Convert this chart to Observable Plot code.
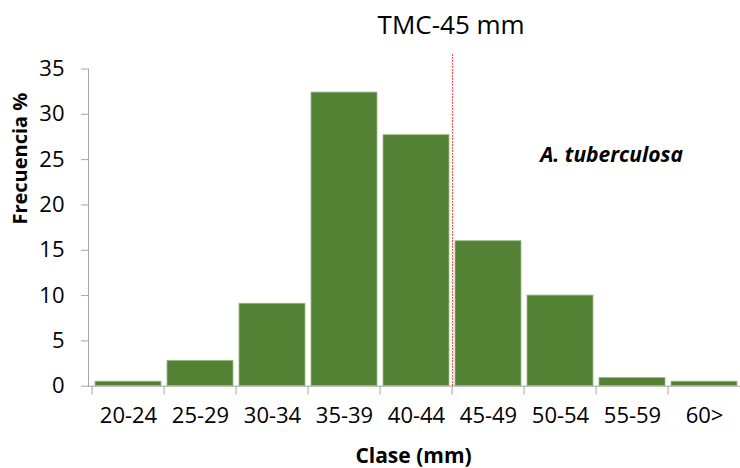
<!DOCTYPE html>
<html>
<head>
<meta charset="utf-8">
<script src="https://cdn.jsdelivr.net/npm/d3@7"></script>
<script src="https://cdn.jsdelivr.net/npm/@observablehq/plot@0.6"></script>
<style>
  html, body { margin: 0; padding: 0; background: #fff; }
  #chart svg { display: block; }
</style>
</head>
<body>
<div id="chart"></div>
<script>
const categories = ["20-24", "25-29", "30-34", "35-39", "40-44", "45-49", "50-54", "55-59", "60>"];
const frequencies = [0.5, 2.8, 9.1, 32.4, 27.7, 16.0, 10.0, 0.9, 0.5];
const yTicks = [0, 5, 10, 15, 20, 25, 30, 35];
const titleText = "TMC-45 mm";
const speciesText = "A. tuberculosa";
const xLabel = "Clase (mm)";
const yLabel = "Frecuencia %";
const tmcClass = "45-49";
const tmcTop = 36.7;

const data = categories.map((c, i) => ({clase: c, freq: frequencies[i]}));

const W = 740, H = 468, ML = 88, MR = -3, MT = 68.5, MB = 82.3;
const bw = (W - ML - MR) / categories.length;
const font = "'Open Sans', 'Noto Sans', sans-serif";

const chart = Plot.plot({
  width: W,
  height: H,
  marginLeft: ML,
  marginRight: MR,
  marginTop: MT,
  marginBottom: MB,
  style: {fontFamily: font, background: "#fff"},
  x: {domain: categories, padding: 0},
  y: {domain: [0, 35]},
  marks: [
    Plot.barY(data, {x: "clase", y: "freq", fill: "#548235", stroke: "#9fbb8a", strokeWidth: 0.8, insetLeft: 3, insetRight: 3}),
    Plot.frame({anchor: "left", stroke: "#a6a6a6"}),
    Plot.ruleY([0], {stroke: "#a6a6a6"}),
    Plot.ruleX(categories, {x: d => d, y1: 0, y2: -1, dx: -bw / 2, stroke: "#a6a6a6"}),
    Plot.axisY({ticks: yTicks, tickSize: 7, tickPadding: 17, fontSize: 22, stroke: "#a6a6a6", fill: "#000", label: null, tickFormat: d => d}),
    Plot.axisX({tickSize: 0, tickPadding: 21, fontSize: 22, fill: "#000", label: null}),
    Plot.ruleX([tmcClass], {x: d => d, y1: 0, y2: tmcTop, dx: -bw / 2 + 0.5, stroke: "#ff0000", strokeWidth: 1, strokeDasharray: "1.5,1.5"}),
    Plot.text([titleText], {x: () => tmcClass, y: () => 39.8, dx: -bw / 2 - 1, text: d => d, fontSize: 26, fill: "#000", textAnchor: "middle", lineAnchor: "middle"}),
    Plot.text([speciesText], {x: () => "55-59", y: () => 25.45, dx: -21, text: d => d, fontSize: 21, fontWeight: "bold", fontStyle: "italic", fill: "#000", textAnchor: "middle", lineAnchor: "middle"}),
    Plot.text([xLabel], {x: () => "40-44", frameAnchor: "bottom", dx: -3, dy: 70, text: d => d, fontSize: 21, fontWeight: "bold", fill: "#000", lineAnchor: "middle"}),
    Plot.text([yLabel], {frameAnchor: "left", dx: -68, dy: -3, rotate: -90, text: d => d, fontSize: 20, fontWeight: "bold", fill: "#000", lineAnchor: "middle"})
  ]
});
document.getElementById("chart").appendChild(chart);
</script>
</body>
</html>
